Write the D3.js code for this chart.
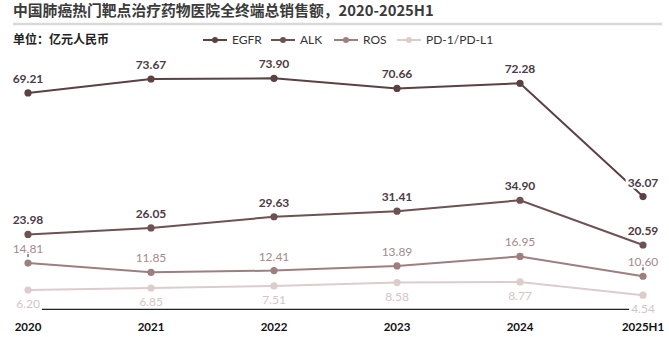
<!DOCTYPE html>
<html><head><meta charset="utf-8">
<script src="https://cdn.jsdelivr.net/npm/d3@7"></script>
<style>body{margin:0;background:#fff}svg{display:block}</style>
</head><body><svg id="c" width="669" height="337"></svg>
<script>
const categories = ["2020","2021","2022","2023","2024","2025H1"];
const seriesNames = ["EGFR","ALK","ROS","PD-1/PD-L1"];
const egfr = [69.21,73.67,73.90,70.66,72.28,36.07];
const alk = [23.98,26.05,29.63,31.41,34.90,20.59];
const ros = [14.81,11.85,12.41,13.89,16.95,10.60];
const pd = [6.20,6.85,7.51,8.58,8.77,4.54];
const colors = ["#5b4142","#6e5253","#9e7f7f","#dccccc"];
const labelColors = ["#4d3b46","#4d3b46","#a58a8a","#d5c4c4"];
const labelBold = [true,true,false,false];
const labelPos = ["above","above","above","below"];

const svg = d3.select("#c");
const x = d3.scalePoint().domain(categories).range([28,643]);
const y = d3.scaleLinear().domain([0,73.90]).range([309.4,78.3]);

// title
svg.append("text").attr("x",13).attr("y",16).attr("font-family","'Noto Sans CJK SC'")
  .attr("font-size",14.8).attr("font-weight","bold").attr("fill","#3b3b3b")
  .text("中国肺癌热门靶点治疗药物医院全终端总销售额，2020-2025H1");
svg.append("line").attr("x1",13).attr("x2",662).attr("y1",24).attr("y2",24)
  .attr("stroke","#d9d9d9").attr("stroke-width",2.5);
svg.append("text").attr("x",13).attr("y",44).attr("font-family","'Noto Sans CJK SC'")
  .attr("font-size",12).attr("font-weight","bold").attr("fill","#222").text("单位：亿元人民币");

// legend
const legX = [203,271,334,397];
seriesNames.forEach((n,i)=>{
  const g = svg.append("g").attr("transform",`translate(${legX[i]},40)`);
  g.append("line").attr("x1",0).attr("x2",24).attr("stroke",colors[i]).attr("stroke-width",2);
  g.append("circle").attr("cx",12).attr("r",3).attr("fill",colors[i]);
  g.append("text").attr("x",29).attr("y",4).attr("font-family","Lato").attr("font-size",12)
    .attr("fill","#333").text(n);
});

// axis baseline
svg.append("line").attr("x1",x(categories[0])).attr("x2",x(categories[categories.length-1]))
  .attr("y1",y(0)).attr("y2",y(0)).attr("stroke","#222").attr("stroke-width",1.2);

// x labels
categories.forEach(c=>{
  svg.append("text").attr("x",x(c)).attr("y",331).attr("text-anchor","middle")
    .attr("font-family","Lato").attr("font-weight","bold").attr("font-size",11.5).attr("fill","#111").text(c);
});

const all = [egfr,alk,ros,pd];
const line = d3.line().x((d,i)=>x(categories[i])).y(d=>y(d));
all.slice().reverse().forEach((vals,ri)=>{
  const i = all.length-1-ri;
  const g = svg.append("g");
  g.append("path").attr("d",line(vals)).attr("fill","none").attr("stroke",colors[i]).attr("stroke-width",2);
  vals.forEach((v,j)=>{
    g.append("circle").attr("cx",x(categories[j])).attr("cy",y(v)).attr("r",3.6).attr("fill",colors[i]);
  });
});
const labelLayer = svg.append("g");
all.forEach((vals,i)=>{
  vals.forEach((v,j)=>{
    const cx = x(categories[j]), cy = y(v);
    const ty = labelPos[i]==="above" ? cy-10 : cy+18;
    const t = labelLayer.append("text").attr("x",cx).attr("y",ty).attr("text-anchor","middle")
      .attr("font-family","Lato").attr("font-size",12).attr("font-weight",labelBold[i]?"bold":"normal")
      .attr("fill",labelColors[i]).text(v.toFixed(2));
    const bb = t.node().getBBox();
    labelLayer.insert("rect","text").attr("x",bb.x-2).attr("y",bb.y+1).attr("width",bb.width+4).attr("height",bb.height-2).attr("fill","#fff");
  });
});
// small leader marks near ROS labels at the ends
[0, categories.length-1].forEach(j=>{
  const cx = x(categories[j]), cy = y(ros[j]);
  labelLayer.append("line").attr("x1",cx).attr("x2",cx).attr("y1",cy-9).attr("y2",cy-6)
    .attr("stroke","#222").attr("stroke-width",1);
});
</script></body></html>
